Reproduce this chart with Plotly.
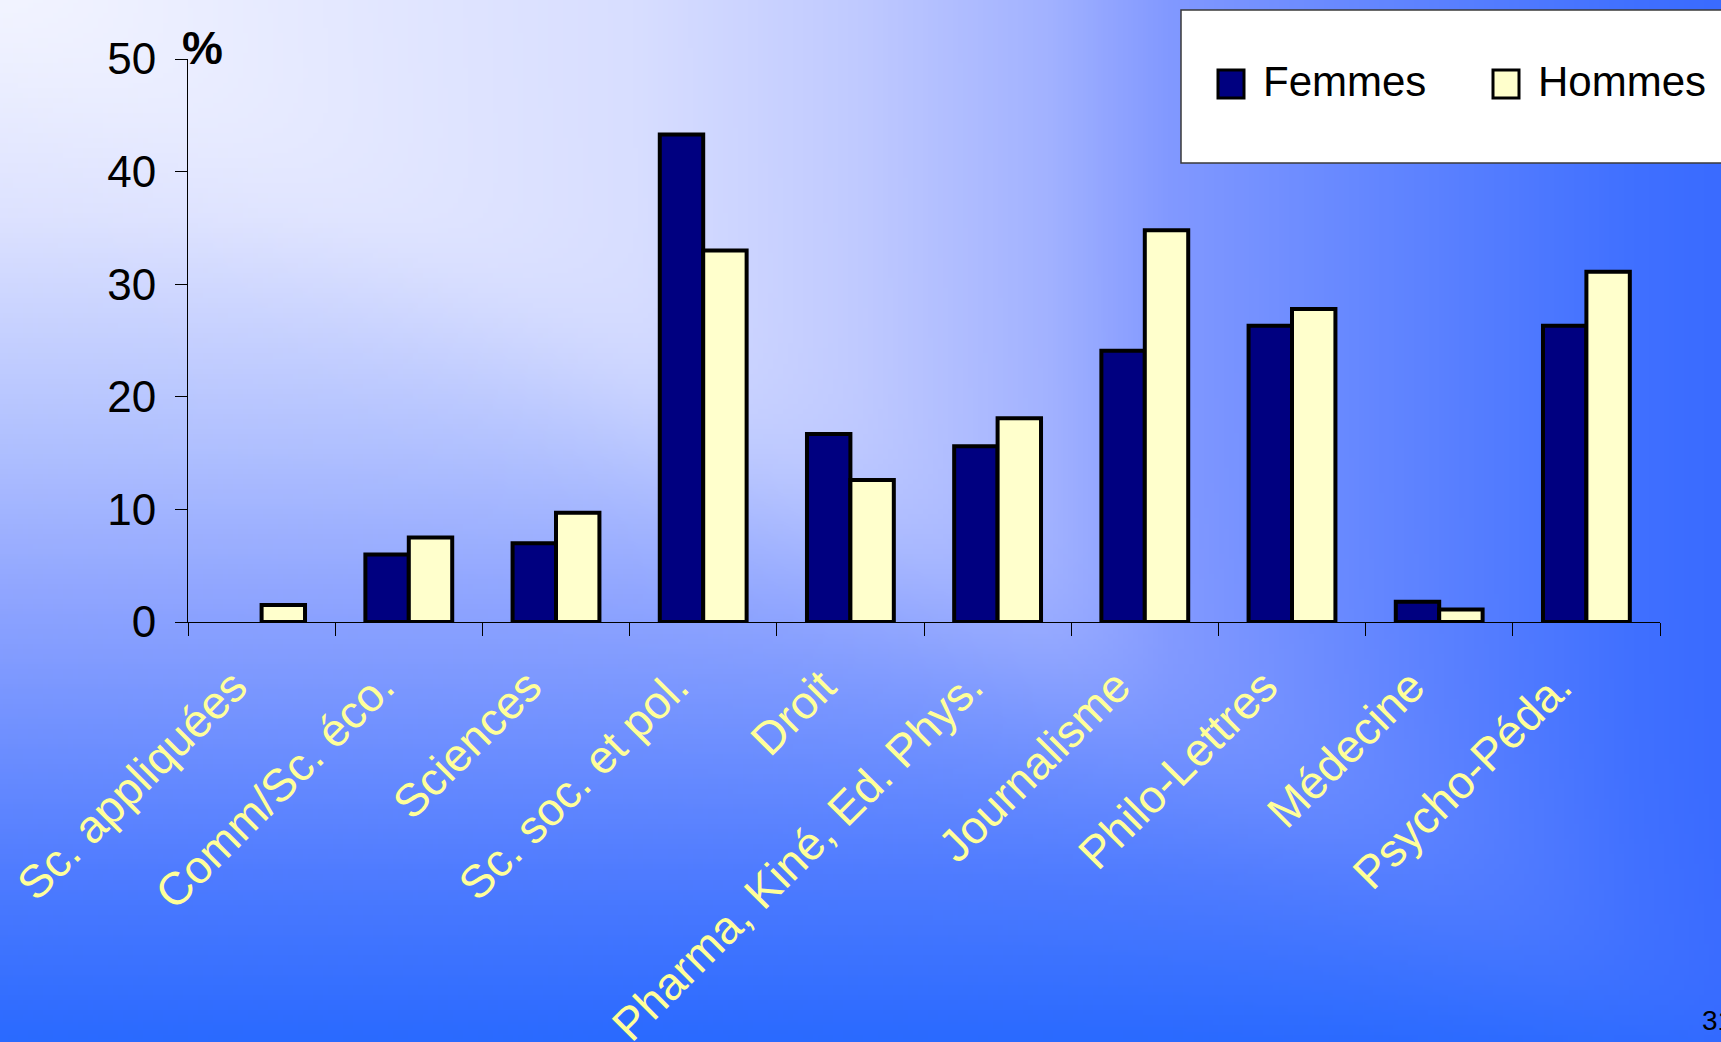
import base64
import struct
import zlib

import numpy as np
import plotly.graph_objects as go

# Part des étudiants par faculté (%)
categories = [
    "Sc. appliquées",
    "Comm/Sc. éco.",
    "Sciences",
    "Sc. soc. et pol.",
    "Droit",
    "Pharma, Kiné, Ed. Phys.",
    "Journalisme",
    "Philo-Lettres",
    "Médecine",
    "Psycho-Péda.",
]
femmes = [None, 6.0, 7.0, 43.3, 16.7, 15.6, 24.1, 26.3, 1.8, 26.3]
hommes = [1.5, 7.5, 9.7, 33.0, 12.6, 18.1, 34.8, 27.8, 1.1, 31.1]
series_names = ["Femmes", "Hommes"]
series_colors = ["#000080", "#FFFFCC"]
y_ticks = [0, 10, 20, 30, 40, 50]
slide_number = "31"

W, H = 1721, 1042
PLOT_L, PLOT_R, PLOT_T, PLOT_B = 188, 1660, 59, 622
FONT = "Arial, Liberation Sans, sans-serif"


def px_x(px):
    """Horizontal pixel position -> paper coordinate."""
    return (px - PLOT_L) / (PLOT_R - PLOT_L)


def px_y(py):
    """Vertical pixel position -> paper coordinate."""
    return (PLOT_B - py) / (PLOT_B - PLOT_T)


def png_data_uri(rgb):
    """Encode an (h, w, 3) uint8 array as a base64 PNG data URI."""
    h, w, _ = rgb.shape
    raw = b"".join(b"\x00" + rgb[r].tobytes() for r in range(h))

    def chunk(tag, data):
        return (struct.pack(">I", len(data)) + tag + data
                + struct.pack(">I", zlib.crc32(tag + data) & 0xFFFFFFFF))

    png = (b"\x89PNG\r\n\x1a\n"
           + chunk(b"IHDR", struct.pack(">IIBBBBB", w, h, 8, 2, 0, 0, 0))
           + chunk(b"IDAT", zlib.compress(raw, 9))
           + chunk(b"IEND", b""))
    return "data:image/png;base64," + base64.b64encode(png).decode()


def corner_gradient(w, h):
    """Slide background: pale corner at top-left fading to saturated blue."""
    v_pos = [0.0, 0.21, 0.43, 0.58, 0.62, 0.845, 1.0]
    v_col = [(242, 244, 255), (221, 226, 255), (176, 192, 255), (142, 164, 255),
             (133, 158, 255), (78, 123, 255), (42, 106, 255)]
    h_pos = [0.0, 0.37, 0.5, 0.61, 0.68, 0.79, 0.95, 1.0]
    h_col = [(242, 244, 255), (216, 222, 255), (192, 202, 255), (162, 178, 255),
             (130, 153, 255), (102, 136, 255), (64, 112, 255), (58, 107, 255)]
    u = (np.arange(w) + 0.5) / w
    s = (np.arange(h) + 0.5) / h
    uu, ss = np.meshgrid(u, s)
    vert = np.stack([np.interp(ss, v_pos, [c[i] for c in v_col]) for i in range(3)], -1)
    horz = np.stack([np.interp(uu, h_pos, [c[i] for c in h_col]) for i in range(3)], -1)
    wgt = 1.0 / (1.0 + np.exp(-(uu - ss) / 0.05))
    img = wgt[..., None] * horz + (1 - wgt[..., None]) * vert
    return np.clip(img, 0, 255).astype(np.uint8)


fig = go.Figure()
for name, vals, color in zip(series_names, [femmes, hommes], series_colors):
    fig.add_trace(go.Bar(
        x=categories, y=vals, name=name,
        marker=dict(color=color, line=dict(color="black", width=4)),
        showlegend=False,
    ))

# background picture covering the whole page
fig.add_layout_image(
    source=png_data_uri(corner_gradient(344, 208)),
    xref="paper", yref="paper",
    x=px_x(0), y=px_y(0),
    sizex=px_x(W) - px_x(0), sizey=px_y(0) - px_y(H),
    xanchor="left", yanchor="top", sizing="stretch", layer="below",
)

# legend box with its swatches and labels
shapes = [dict(type="rect", xref="paper", yref="paper",
               x0=px_x(1181), x1=px_x(1740), y0=px_y(163), y1=px_y(10),
               fillcolor="white", line=dict(color="#3a3a3a", width=1.5))]
annotations = []
legend_items = [(1218, 1261), (1493, 1536)]
for (sx, tx), name, color in zip(legend_items, series_names, series_colors):
    shapes.append(dict(type="rect", xref="paper", yref="paper",
                       x0=px_x(sx), x1=px_x(sx + 26), y0=px_y(98), y1=px_y(70),
                       fillcolor=color, line=dict(color="black", width=3)))
    annotations.append(dict(xref="paper", yref="paper", x=px_x(tx), y=px_y(82),
                            text=name, showarrow=False, xanchor="left", yanchor="middle",
                            font=dict(family=FONT, size=42, color="black")))

annotations.append(dict(xref="paper", yref="paper", x=px_x(180), y=px_y(48),
                        text="<b>%</b>", showarrow=False, xanchor="left", yanchor="middle",
                        font=dict(family=FONT, size=46, color="black")))
annotations.append(dict(xref="paper", yref="paper", x=px_x(1700), y=px_y(1020),
                        text=slide_number, showarrow=False, xanchor="left", yanchor="middle",
                        font=dict(family=FONT, size=28, color="black")))

fig.update_layout(
    width=W, height=H,
    margin=dict(l=PLOT_L, r=W - PLOT_R, t=PLOT_T, b=H - PLOT_B, autoexpand=False),
    paper_bgcolor="#6f8cff",
    plot_bgcolor="rgba(0,0,0,0)",
    barmode="group", bargap=0.41, bargroupgap=0,
    shapes=shapes, annotations=annotations,
    font=dict(family=FONT),
)
fig.update_xaxes(
    type="category", tickson="boundaries", ticks="outside", ticklen=13,
    tickcolor="black", tickwidth=1, showline=True, linecolor="black", linewidth=1,
    showgrid=False, tickangle=-45, ticklabelstandoff=18, ticklabelshift=-28,
    automargin=False,
    tickfont=dict(family=FONT, size=46, color="#FFFF99"),
)
fig.update_yaxes(
    range=[0, 50], tickvals=y_ticks, ticks="outside", ticklen=12,
    tickcolor="black", tickwidth=1, showline=True, linecolor="black", linewidth=1,
    showgrid=False, zeroline=False, automargin=False, ticklabelstandoff=10,
    tickfont=dict(family=FONT, size=44, color="black"),
)

fig.write_html("out.html")
